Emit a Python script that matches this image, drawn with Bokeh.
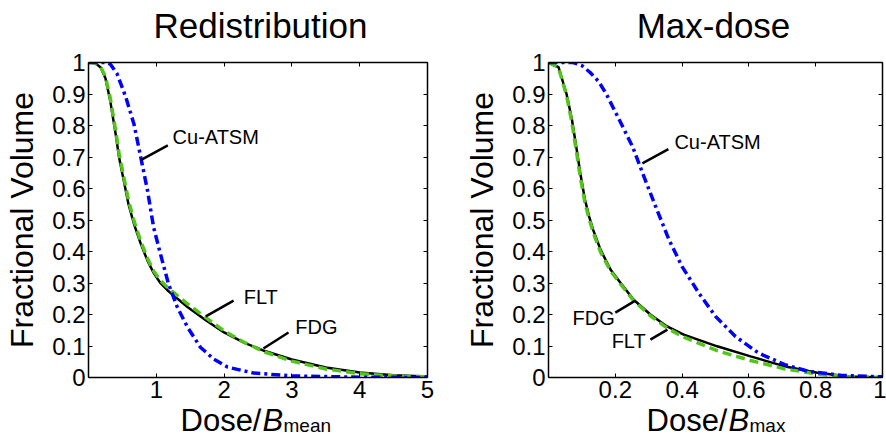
from bokeh.plotting import figure
from bokeh.layouts import row, column
from bokeh.models import Label, LinearAxis, FixedTicker
from bokeh.embed import file_html
from bokeh.resources import INLINE

FONT = "Liberation Sans"

# ---------------- data: Redistribution panel ----------------
red_fdg_x = [0, 0.1, 0.18, 0.25, 0.32, 0.40, 0.45, 0.52, 0.59, 0.67, 0.77, 0.87, 0.96, 1.06, 1.16, 1.23, 1.46, 1.73, 2.0, 2.3, 2.6, 3.0, 3.5, 4.0, 4.5, 5.0]
red_fdg_y = [1, 0.998, 0.984, 0.95, 0.879, 0.774, 0.70, 0.625, 0.55, 0.488, 0.425, 0.371, 0.332, 0.30, 0.278, 0.265, 0.224, 0.182, 0.143, 0.11, 0.084, 0.057, 0.032, 0.016, 0.007, 0.003]
red_flt_x = [0, 0.1, 0.18, 0.25, 0.32, 0.40, 0.45, 0.52, 0.59, 0.67, 0.77, 0.87, 0.96, 1.06, 1.16, 1.23, 1.46, 1.73, 2.0, 2.3, 2.6, 3.0, 3.5, 4.0, 4.5, 5.0]
red_flt_y = [1, 0.998, 0.986, 0.955, 0.888, 0.785, 0.712, 0.637, 0.562, 0.498, 0.433, 0.378, 0.338, 0.308, 0.287, 0.274, 0.234, 0.19, 0.148, 0.111, 0.081, 0.052, 0.027, 0.012, 0.005, 0.002]
red_cu_x = [0, 0.25, 0.32, 0.42, 0.55, 0.67, 0.77, 0.87, 0.96, 1.06, 1.18, 1.31, 1.46, 1.65, 1.85, 2.05, 2.44, 3.0, 4.0, 5.0]
red_cu_y = [1, 1.0, 0.995, 0.965, 0.89, 0.805, 0.70, 0.594, 0.477, 0.393, 0.297, 0.223, 0.16, 0.096, 0.058, 0.033, 0.014, 0.005, 0.001, 0.0]

# ---------------- data: Max-dose panel ----------------
max_fdg_x = [0, 0.03, 0.054, 0.07, 0.082, 0.095, 0.109, 0.122, 0.134, 0.156, 0.186, 0.216, 0.255, 0.305, 0.355, 0.405, 0.505, 0.605, 0.705, 0.805, 0.9, 1.0]
max_fdg_y = [1, 0.985, 0.90, 0.82, 0.74, 0.65, 0.565, 0.51, 0.468, 0.405, 0.342, 0.30, 0.247, 0.20, 0.162, 0.136, 0.099, 0.067, 0.036, 0.015, 0.003, 0.0]
max_flt_x = [0, 0.03, 0.054, 0.07, 0.082, 0.095, 0.109, 0.122, 0.134, 0.156, 0.186, 0.216, 0.255, 0.305, 0.355, 0.405, 0.505, 0.605, 0.705, 0.805, 0.9, 1.0]
max_flt_y = [1, 0.984, 0.895, 0.81, 0.728, 0.638, 0.555, 0.502, 0.46, 0.398, 0.338, 0.296, 0.244, 0.196, 0.157, 0.128, 0.085, 0.054, 0.028, 0.011, 0.002, 0.0]
max_cu_x = [0, 0.074, 0.10, 0.124, 0.150, 0.173, 0.213, 0.252, 0.282, 0.321, 0.361, 0.40, 0.45, 0.50, 0.559, 0.628, 0.707, 0.776, 0.875, 1.0]
max_cu_y = [1, 1.0, 0.99, 0.969, 0.94, 0.90, 0.816, 0.732, 0.648, 0.542, 0.437, 0.352, 0.268, 0.194, 0.131, 0.078, 0.041, 0.020, 0.007, 0.002]

y_ticks = [0, 0.1, 0.2, 0.3, 0.4, 0.5, 0.6, 0.7, 0.8, 0.9, 1]
y_tick_labels = ["0", "0.1", "0.2", "0.3", "0.4", "0.5", "0.6", "0.7", "0.8", "0.9", "1"]
red_x_ticks = [1, 2, 3, 4, 5]
red_x_tick_labels = ["1", "2", "3", "4", "5"]
max_x_ticks = [0.2, 0.4, 0.6, 0.8, 1]
max_x_tick_labels = ["0.2", "0.4", "0.6", "0.8", "1"]

# annotation texts & leader lines (data coords)
red_ann_text = ["Cu-ATSM", "FLT", "FDG"]
red_ann_tx = [1.24, 2.29, 3.05]
red_ann_ty = [0.762, 0.257, 0.159]
red_lead_x0 = [0.77, 1.73, 2.58]
red_lead_y0 = [0.69, 0.194, 0.092]
red_lead_x1 = [1.17, 2.14, 2.95]
red_lead_y1 = [0.737, 0.244, 0.143]

max_ann_text = ["Cu-ATSM", "FDG", "FLT"]
max_ann_tx = [0.377, 0.072, 0.189]
max_ann_ty = [0.747, 0.19, 0.117]
max_lead_x0 = [0.281, 0.20, 0.305]
max_lead_y0 = [0.680, 0.206, 0.120]
max_lead_x1 = [0.359, 0.26, 0.356]
max_lead_y1 = [0.725, 0.244, 0.152]

titles = ["Redistribution", "Max-dose"]
x_subscripts = ["mean", "max"]

GREEN = "#52c41a"
BLUE = "#0000ff"


def style_axis(ax, ticks, labels, show_labels=True):
    ax.ticker = FixedTicker(ticks=ticks)
    ax.major_label_overrides = {t: l for t, l in zip(ticks, labels)}
    ax.major_tick_in = 4
    ax.major_tick_out = 0
    ax.minor_tick_line_color = None
    ax.axis_line_color = "black"
    ax.axis_line_width = 1.5
    ax.major_tick_line_color = "black"
    ax.major_label_text_font = FONT
    ax.major_label_text_color = "black"
    if show_labels:
        ax.major_label_text_font_size = "24px"
        ax.major_label_standoff = 3
    else:
        ax.major_label_text_font_size = "1px"
        ax.major_label_text_alpha = 0
        ax.major_label_standoff = 0


def make_panel(xmax, xt, xtl, curves, ann, borders):
    bl, br, bt, bb = borders
    p = figure(width=443, height=358, x_range=(0, xmax), y_range=(0, 1),
               title=None, output_backend="svg", toolbar_location=None,
               min_border_left=bl, min_border_right=br, min_border_top=bt,
               min_border_bottom=bb)
    p.xgrid.visible = False
    p.ygrid.visible = False
    p.outline_line_color = None

    style_axis(p.xaxis[0], xt, xtl)
    style_axis(p.yaxis[0], y_ticks, y_tick_labels)
    p.yaxis[0].axis_label = "Fractional Volume"
    p.yaxis[0].axis_label_text_font = FONT
    p.yaxis[0].axis_label_text_font_size = "32px"
    p.yaxis[0].axis_label_text_font_style = "normal"
    p.yaxis[0].axis_label_text_color = "black"
    p.yaxis[0].axis_label_standoff = 9

    top = LinearAxis()
    style_axis(top, xt, ["" for _ in xt], show_labels=False)
    p.add_layout(top, "above")
    right = LinearAxis()
    style_axis(right, y_ticks, ["" for _ in y_ticks], show_labels=False)
    p.add_layout(right, "right")

    (fx, fy), (lx, ly), (cx, cy) = curves
    p.line(fx, fy, line_color="black", line_width=2.5)
    p.line(lx, ly, line_color=GREEN, line_width=3.5, line_dash="9 5")
    p.line(cx, cy, line_color=BLUE, line_width=3.5, line_dash="9 4 3 4")

    texts, tx, ty, x0, y0, x1, y1 = ann
    p.segment(x0=x0, y0=y0, x1=x1, y1=y1, line_color="black", line_width=2.5)
    for t, x, y in zip(texts, tx, ty):
        p.add_layout(Label(x=x, y=y, text=t, text_font=FONT, text_font_size="20px",
                           text_baseline="middle", text_align="left", text_color="black"))
    return p


def strip(height):
    q = figure(width=443, height=height, x_range=(0, 443), y_range=(0, height),
               title=None, output_backend="svg", toolbar_location=None,
               x_axis_location=None, y_axis_location=None,
               min_border=0, min_border_left=0, min_border_right=0,
               min_border_top=0, min_border_bottom=0)
    q.xgrid.visible = False
    q.ygrid.visible = False
    q.outline_line_color = None
    return q


def make_title(text, xc):
    q = strip(50)
    q.add_layout(Label(x=xc, y=25, text=text, text_font=FONT, text_font_size="35px",
                       text_baseline="middle", text_align="center",
                       text_color="black"))
    return q


def make_xlabel(x_left, sub):
    # mixed-style axis title "Dose/B_sub" under each panel
    q = strip(30)
    for txt, off, yy, size, style in [("Dose/", 0, 18, "31px", "normal"),
                                      ("B", 82, 18, "31px", "italic"),
                                      (sub, 103, 13, "19px", "normal")]:
        q.add_layout(Label(x=x_left, y=yy, x_offset=off, text=txt, text_font=FONT,
                           text_font_size=size, text_font_style=style,
                           text_baseline="middle", text_align="left",
                           text_color="black"))
    return q


p1 = make_panel(5, red_x_ticks, red_x_tick_labels,
                [(red_fdg_x, red_fdg_y), (red_flt_x, red_flt_y), (red_cu_x, red_cu_y)],
                (red_ann_text, red_ann_tx, red_ann_ty, red_lead_x0, red_lead_y0, red_lead_x1, red_lead_y1),
                (88, 16, 12, 31))
p2 = make_panel(1, max_x_ticks, max_x_tick_labels,
                [(max_fdg_x, max_fdg_y), (max_flt_x, max_flt_y), (max_cu_x, max_cu_y)],
                (max_ann_text, max_ann_tx, max_ann_ty, max_lead_x0, max_lead_y0, max_lead_x1, max_lead_y1),
                (105, 4, 12, 30))

t1 = make_title(titles[0], 260)
t2 = make_title(titles[1], 270)
x1 = make_xlabel(180, x_subscripts[0])
x2 = make_xlabel(203, x_subscripts[1])

layout = column(row(t1, t2), row(p1, p2), row(x1, x2))
open("out.html", "w").write(file_html(layout, INLINE))
